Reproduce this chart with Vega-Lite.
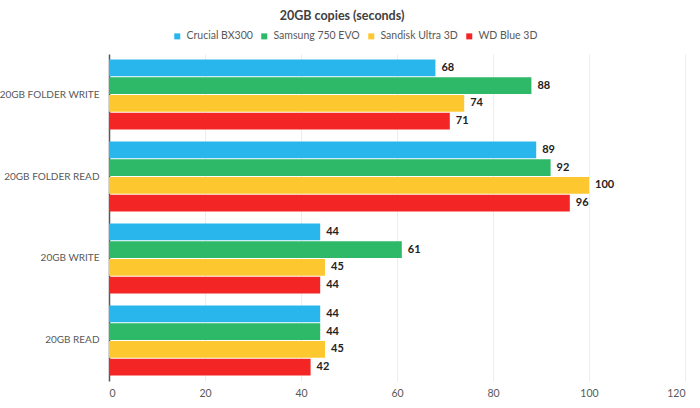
{
  "$schema": "https://vega.github.io/schema/vega-lite/v6.json",
  "width": 576,
  "height": 327,
  "autosize": "none",
  "padding": {"left": 109, "top": 54, "right": 15, "bottom": 27},
  "background": "white",
  "config": {
    "font": "Lato",
    "view": {"stroke": null}
  },
  "title": {
    "text": "20GB copies (seconds)",
    "fontSize": 12.5,
    "fontWeight": "bold",
    "color": "#404040",
    "anchor": "middle",
    "frame": "bounds",
    "offset": 9
  },
  "data": {
    "values": [
      {"task": "20GB FOLDER WRITE", "drive": "Crucial BX300", "value": 68},
      {"task": "20GB FOLDER WRITE", "drive": "Samsung 750 EVO", "value": 88},
      {"task": "20GB FOLDER WRITE", "drive": "Sandisk Ultra 3D", "value": 74},
      {"task": "20GB FOLDER WRITE", "drive": "WD Blue 3D", "value": 71},
      {"task": "20GB FOLDER READ", "drive": "Crucial BX300", "value": 89},
      {"task": "20GB FOLDER READ", "drive": "Samsung 750 EVO", "value": 92},
      {"task": "20GB FOLDER READ", "drive": "Sandisk Ultra 3D", "value": 100},
      {"task": "20GB FOLDER READ", "drive": "WD Blue 3D", "value": 96},
      {"task": "20GB WRITE", "drive": "Crucial BX300", "value": 44},
      {"task": "20GB WRITE", "drive": "Samsung 750 EVO", "value": 61},
      {"task": "20GB WRITE", "drive": "Sandisk Ultra 3D", "value": 45},
      {"task": "20GB WRITE", "drive": "WD Blue 3D", "value": 44},
      {"task": "20GB READ", "drive": "Crucial BX300", "value": 44},
      {"task": "20GB READ", "drive": "Samsung 750 EVO", "value": 44},
      {"task": "20GB READ", "drive": "Sandisk Ultra 3D", "value": 45},
      {"task": "20GB READ", "drive": "WD Blue 3D", "value": 42}
    ]
  },
  "encoding": {
    "y": {
      "field": "task",
      "type": "nominal",
      "sort": ["20GB FOLDER WRITE", "20GB FOLDER READ", "20GB WRITE", "20GB READ"],
      "scale": {"paddingInner": 0.146, "paddingOuter": 0.067},
      "axis": {
        "title": null,
        "ticks": false,
        "domain": true,
        "domainColor": "#595959",
        "domainWidth": 1.5,
        "labelColor": "#595959",
        "labelFontSize": 10,
        "labelPadding": 10,
        "labelLimit": 0
      }
    },
    "yOffset": {
      "field": "drive",
      "type": "nominal",
      "sort": ["Crucial BX300", "Samsung 750 EVO", "Sandisk Ultra 3D", "WD Blue 3D"],
      "scale": {"paddingInner": 0.05}
    },
    "x": {
      "field": "value",
      "type": "quantitative",
      "scale": {"domain": [0, 120]},
      "axis": {
        "title": null,
        "values": [0, 20, 40, 60, 80, 100, 120],
        "grid": true,
        "gridColor": "#ededed",
        "domain": false,
        "ticks": false,
        "labelColor": "#595959",
        "labelFontSize": 10.5,
        "labelPadding": 7
      }
    }
  },
  "layer": [
    {
      "mark": {"type": "bar"},
      "encoding": {
        "color": {
          "field": "drive",
          "type": "nominal",
          "sort": ["Crucial BX300", "Samsung 750 EVO", "Sandisk Ultra 3D", "WD Blue 3D"],
          "scale": {
            "domain": ["Crucial BX300", "Samsung 750 EVO", "Sandisk Ultra 3D", "WD Blue 3D"],
            "range": ["#29b6ec", "#2db967", "#fdc82f", "#f32525"]
          },
          "legend": {
            "title": null,
            "orient": "none",
            "direction": "horizontal",
            "legendX": 63,
            "legendY": -23,
            "symbolType": "square",
            "symbolSize": 36,
            "symbolStrokeWidth": 0,
            "labelFontSize": 10.5,
            "labelColor": "#595959",
            "columnPadding": 6,
            "labelOffset": 4
          }
        }
      }
    },
    {
      "mark": {"type": "text", "align": "left", "dx": 6, "fontWeight": "bold", "fontSize": 11, "color": "#222222"},
      "encoding": {
        "text": {"field": "value", "type": "quantitative"}
      }
    }
  ]
}
